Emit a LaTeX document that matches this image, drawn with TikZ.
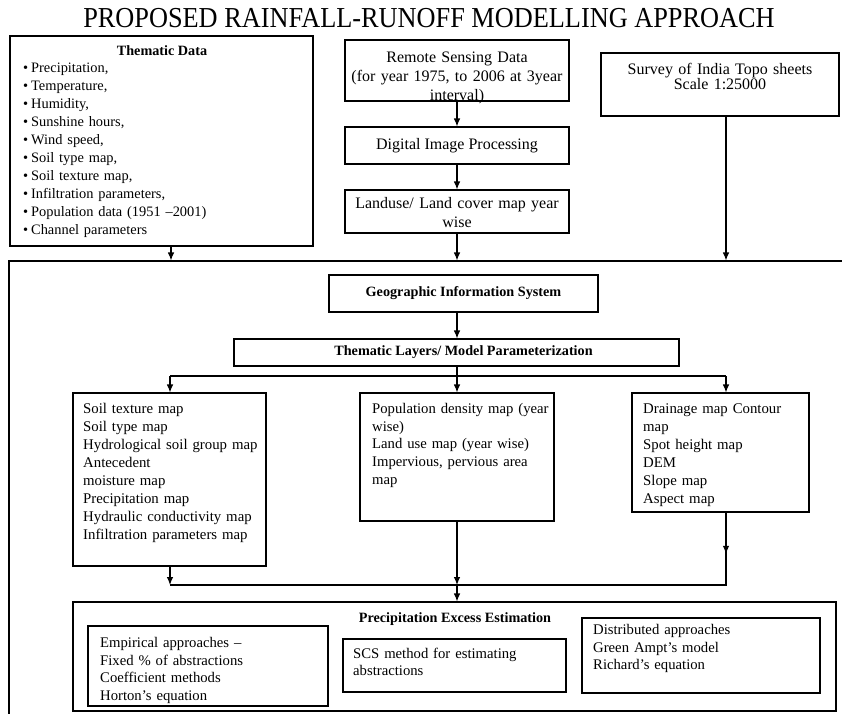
\documentclass[tikz,border=0pt]{standalone}
\usepackage{graphicx}
\usepackage{fontspec}
\setmainfont{Liberation Serif}
\usetikzlibrary{arrows.meta,calc,fit}

% font presets
\newcommand{\ftitle}{\fontsize{26.3}{30}\selectfont}
\newcommand{\ftop}{\fontsize{16}{19}\selectfont}
\newcommand{\fsurvey}{\fontsize{16}{15.5}\selectfont}
\newcommand{\flist}{\fontsize{14.4}{18}\selectfont}
\newcommand{\flow}{\fontsize{14.8}{18}\selectfont}
\newcommand{\fbot}{\fontsize{14.7}{17.7}\selectfont}
\newcommand{\fhead}{\bfseries\fontsize{14.2}{17}\selectfont}
\newcommand{\bul}{\makebox[8pt][l]{•}}

\begin{document}
\begin{tikzpicture}[x=1pt,y=-1pt,
  box/.style={draw, line width=1.05pt, inner sep=0pt},
  arr/.style={-{Latex[length=8pt,width=6.5pt]}, line width=1.05pt},
  ln/.style={line width=1.05pt},
  ltxt/.style={inner sep=0pt, anchor=base west, align=left, text width=#1},
  ctxt/.style={inner sep=0pt, anchor=base, align=center, text width=#1},
]
\useasboundingbox (0,0) rectangle (842,713);

% title
\node[inner sep=0pt, anchor=base, font=\ftitle] (title) at (429,27.5)
  {\scalebox{1}[1.1]{PROPOSED RAINFALL-RUNOFF MODELLING APPROACH}};

% input boxes
\node[box, fit={(10,36) (313,246)}] (td) {};
\node[box, fit={(345,40) (569,101)}] (rs) {};
\node[box, fit={(601,53) (839,116)}] (sv) {};
\node[box, fit={(345,127) (569,164)}] (dip) {};
\node[box, fit={(345,190) (569,233)}] (lu) {};

% outer frame of the GIS part
\node[box, fit={(9,261) (850,720)}] (frame) {};

% GIS part
\node[box, fit={(329,275) (598,312)}] (gis) {};
\node[box, fit={(234,339) (679,366)}] (tl) {};
\node[box, fit={(73,393) (266,566)}] (soil) {};
\node[box, fit={(360,393) (554,521)}] (pop) {};
\node[box, fit={(632,393) (809,512)}] (drn) {};

% precipitation excess part
\node[box, fit={(73,602) (836,711)}] (pe) {};
\node[box, fit={(88,626) (328,706)}] (emp) {};
\node[box, fit={(343,639) (566,692)}] (scs) {};
\node[box, fit={(582,618) (820,693)}] (dis) {};

% texts
\node[inner sep=0pt, anchor=base, font=\fhead] (tdh) at (162,55) {Thematic Data};
\node[ltxt=280pt, font=\flist] (tdl) at (23,72.5)
  {\bul Precipitation,\\ \bul Temperature,\\ \bul Humidity,\\ \bul Sunshine hours,\\
   \bul Wind speed,\\ \bul Soil type map,\\ \bul Soil texture map,\\
   \bul Infiltration parameters,\\ \bul Population data (1951 –2001)\\ \bul Channel parameters};
\node[ctxt=220pt, font=\ftop] (rst) at (457,62)
  {Remote Sensing Data\\ (for year 1975, to 2006 at 3year\\ interval)};
\node[ctxt=235pt, font=\fsurvey] (svt) at (720,74)
  {Survey of India Topo sheets\\ Scale 1:25000};
\node[inner sep=0pt, font=\ftop] (dipt) at (dip.center) {Digital Image Processing};
\node[ctxt=220pt, font=\ftop] (lut) at (457,208.5)
  {Landuse/ Land cover map year\\ wise};

\node[inner sep=0pt, font=\fhead] (gist) at (gis.center) {Geographic Information System};
\node[inner sep=0pt, font=\fhead] (tlt) at ([xshift=7pt]tl.center) {Thematic Layers/ Model Parameterization};

\node[ltxt=185pt, font=\flow] (soilt) at (83,413.5)
  {Soil texture map\\ Soil type map\\ Hydrological soil group map\\ Antecedent\\
   moisture map\\ Precipitation map\\ Hydraulic conductivity map\\ Infiltration parameters map};
\node[ltxt=180pt, font=\fbot] (popt) at (372,413.5)
  {Population density map (year\\ wise)\\ Land use map (year wise)\\ Impervious, pervious area\\ map};
\node[ltxt=165pt, font=\flow] (drnt) at (643,413.5)
  {Drainage map Contour\\ map\\ Spot height map\\ DEM\\ Slope map\\ Aspect map};

\node[inner sep=0pt, anchor=base, font=\fhead] (pet) at (455,622) {Precipitation Excess Estimation};
\node[ltxt=225pt, font=\fbot] (empt) at (100,647.5)
  {Empirical approaches –\\ Fixed \% of abstractions\\ Coefficient methods\\ Horton’s equation};
\node[ltxt=205pt, font=\fontsize{14.7}{17}\selectfont] (scst) at (353,658)
  {SCS method for estimating\\ abstractions};
\node[ltxt=225pt, font=\fbot] (dist) at (593,634.5)
  {Distributed approaches\\ Green Ampt’s model\\ Richard’s equation};

% connector columns and bus rows
\coordinate (xT) at (171,0);
\coordinate (xL) at (170,0);
\coordinate (xM) at (457,0);
\coordinate (xR) at (726,0);
\coordinate (bus1) at (0,376);
\coordinate (bus2) at (0,585);

% inputs into the GIS frame
\draw[arr] (xT |- td.south) -- (xT |- frame.north);
\draw[arr] (rs.south -| xM) -- (dip.north -| xM);
\draw[arr] (dip.south -| xM) -- (lu.north -| xM);
\draw[arr] (lu.south -| xM) -- (xM |- frame.north);
\draw[arr] (xR |- sv.south) -- (xR |- frame.north);

% GIS to thematic layers and the three map groups
\draw[arr] (gis.south -| xM) -- (tl.north -| xM);
\draw[ln] (tl.south -| xM) -- (xM |- bus1);
\draw[ln] (xL |- bus1) -- (xR |- bus1);
\draw[arr] (xL |- bus1) -- (soil.north -| xL);
\draw[arr] (xM |- bus1) -- (pop.north -| xM);
\draw[arr] (xR |- bus1) -- (drn.north -| xR);

% map groups into precipitation excess estimation
\draw[arr] (soil.south -| xL) -- (xL |- bus2);
\draw[arr] (pop.south -| xM) -- (xM |- bus2);
\draw[arr] (drn.south -| xR) -- ($(drn.south -| xR)!0.57!(xR |- bus2)$);
\draw[ln] (drn.south -| xR) -- (xR |- bus2) -- (xL |- bus2);
\draw[arr] (xM |- bus2) -- (pe.north -| xM);
\end{tikzpicture}
\end{document}
